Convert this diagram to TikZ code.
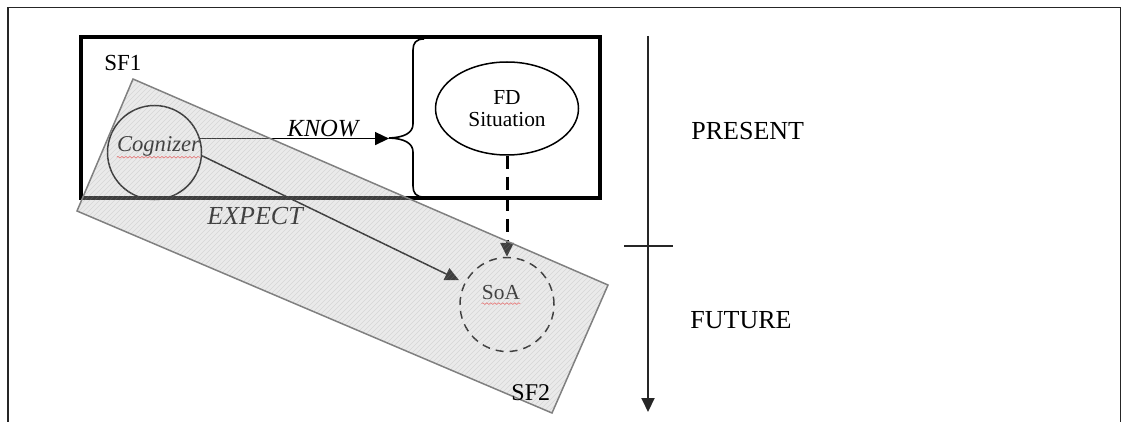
\documentclass[tikz,border=0pt]{standalone}
\usepackage{fontspec}
\setmainfont{Liberation Serif}
\usetikzlibrary{shapes.geometric, arrows.meta}
\usetikzlibrary{decorations.pathmorphing}

\begin{document}
\begin{tikzpicture}[x=0.5pt, y=-0.5pt,
	circ/.style={draw,circle,minimum size=47pt,inner sep=0pt,line width=0.75pt},
	ell/.style={draw,ellipse,minimum width=71.5pt,minimum height=46.5pt,inner sep=0pt,
		line width=0.75pt,align=center,font=\fontsize{10.7}{11}\selectfont},
	txt/.style={anchor=base west,inner sep=0pt},
	arr/.style={-{Triangle[length=7pt,width=6.5pt]}},
	wavy/.style={red!70,line width=0.3pt,decorate,decoration={snake,amplitude=0.4pt,segment length=2pt}}]
	\useasboundingbox (0,0) rectangle (1122,422);
	% frame
	\draw[line width=0.7pt, black!85] (8,422) -- (8,7.5) -- (1120.5,7.5) -- (1120.5,422);
	% SF1
	\draw[line width=2pt] (81,37) rectangle (600,198);
	\node[txt,font=\fontsize{11.5}{12}\selectfont] (1) at (104,71) {SF1};
	\coordinate (2) at (389,138);
	\draw[line width=0.8pt] (424,39) .. controls (416,39) and (413,43) .. (413,50) -- (413,124)
		.. controls (413,133) and (404,137.5) .. (2) .. controls (404,138.5) and (413,143) .. (413,152)
		-- (413,186) .. controls (413,193) and (416,197) .. (424,197);
	\node[ell] (3) at (507,108.5) {FD\\Situation};
	\node[circ,dash pattern=on 4pt off 3pt] (4) at (507,304.5) {};
	\node[circ] (5) at (154.5,152.5) {};
	\draw[arr,line width=1.5pt,dash pattern=on 6.5pt off 4pt] (3) to (4);
	\draw[arr,line width=0.75pt] (5.17) to (5.17 -| 2);
	\node[txt,font=\itshape\fontsize{12.3}{13}\selectfont] (6) at (287,137) {KNOW};
	\node[anchor=base,inner sep=0pt,font=\itshape\fontsize{11.3}{12}\selectfont] (7) at (158.5,152) {Cognizer};
	\draw[wavy] (7.south west) to (7.south east);
	\draw[arr,line width=0.75pt,shorten >=3pt] (5.-4) to (4.153);
	\node[txt,font=\itshape\fontsize{13}{14}\selectfont] (8) at (207,224) {EXPECT};
	\node[anchor=base,inner sep=0pt,font=\fontsize{10.7}{11}\selectfont] (9) at (501,299) {SoA};
	\draw[wavy] ([yshift=-2pt]9.south west) to ([yshift=-2pt]9.south east);
	% SF2
	\coordinate (a) at (133,79);
	\coordinate (b) at (608,285);
	\coordinate (c) at (552,413);
	\coordinate (d) at (77,211);
	\fill[black!25, fill opacity=0.33] (a) -- (b) -- (c) -- (d) -- cycle;
	\begin{scope}
		\clip (a) -- (b) -- (c) -- (d) -- cycle;
		\foreach \k in {150,155,...,1030}
			\draw[black!40, line width=0.2pt, draw opacity=0.25] (\k,0) -- (\k-430,430);
	\end{scope}
	\draw[black!50, line width=0.75pt] (a) -- (b) -- (c) -- (d) -- cycle;
	\node[txt,font=\fontsize{12}{13}\selectfont] (10) at (511,400) {SF2};
	% time
	\coordinate (t0) at (648,36);
	\coordinate (t1) at (648,412);
	\coordinate (t2) at (624,246);
	\coordinate (t3) at (673,246);
	\draw[arr,line width=1pt,black!85] (t0) to (t1);
	\draw[line width=1pt,black!85] (t2) to (t3);
	\node[txt,font=\fontsize{13}{14}\selectfont] (11) at (691,140) {PRESENT};
	\node[txt,font=\fontsize{13}{14}\selectfont] (12) at (690,328) {FUTURE};
\end{tikzpicture}
\end{document}
